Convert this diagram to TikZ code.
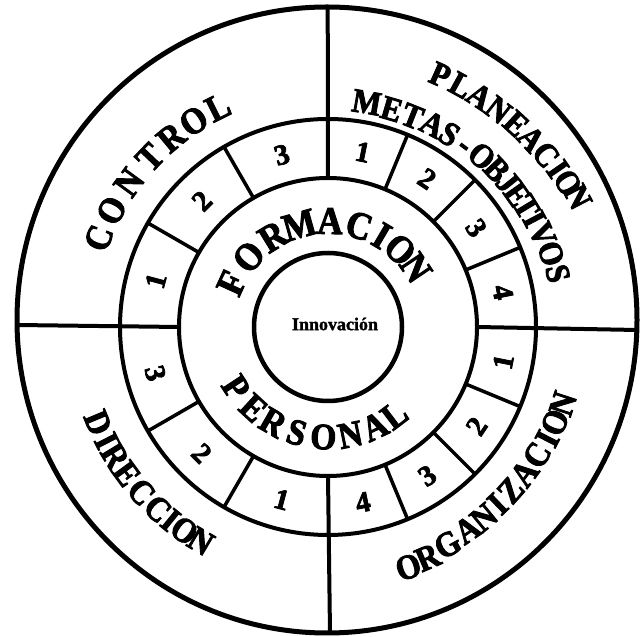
\documentclass[tikz,border=0pt]{standalone}
\usepackage{fontspec}
\setmainfont{Liberation Serif}
\newfontfamily\lettfont{Liberation Serif}[UprightFont={* Bold}, FakeStretch=0.9, FakeBold=2.5]
\newfontfamily\numfont{Liberation Serif}[UprightFont={* Bold}, FakeBold=2.5]
\newfontfamily\innofont{Liberation Serif}[UprightFont={* Bold}, FakeBold=1.5]
\usetikzlibrary{calc}
\tikzset{
  outerline/.style={line width=5pt},
  mainline/.style={line width=4pt},
  ringline/.style={line width=4pt},
  coreline/.style={line width=4.5pt},
  divline/.style={line width=3.5pt},
  ltr/.style={font=\lettfont\fontsize{#1}{#1}\selectfont, inner sep=0pt, text height={0.662*#1pt}, text depth=0pt},
  numl/.style={font=\numfont\fontsize{29}{29}\selectfont, inner sep=0pt, text height=19.5pt, text depth=0pt},
}
\newcommand{\toparc}[3]{\foreach \ch/\ang/\rad [count=\i] in {#3} {\node[#1, rotate=\ang-90] (#2\i) at ([shift={(\ang:\rad)}]C) {\ch};}}
\newcommand{\botarc}[3]{\foreach \ch/\ang/\rad [count=\i] in {#3} {\node[#1, rotate=\ang+90] (#2\i) at ([shift={(\ang:\rad)}]C) {\ch};}}
\begin{document}
\begin{tikzpicture}[x=1pt,y=1pt]
\fill[white] (0,0) rectangle (640,637);
\useasboundingbox (0,0) rectangle (640,637);
\coordinate (C) at (328,310);
\coordinate (OC) at (327,317);
% outer circle
\draw[outerline] (OC) ellipse[x radius=310, y radius=313];
% ring and core circles
\draw[ringline] (C) circle[radius=208];
\draw[ringline] (C) circle[radius=149];
\draw[coreline] (C) circle[radius=74];
% main cross lines
\coordinate (topO) at (327.7,630);
\coordinate (botO) at (330,4);
\coordinate (lefO) at (17,312);
\coordinate (rigO) at (637,307);
\coordinate (topR) at ([shift={(90:149)}]C);
\coordinate (botR) at ([shift={(270:149)}]C);
\coordinate (lefR) at ([shift={(180:149)}]C);
\coordinate (rigR) at ([shift={(0:149)}]C);
\draw[mainline] (topO) -- (topR);
\draw[mainline] (botO) -- (botR);
\draw[mainline] (lefO) -- (lefR);
\draw[mainline] (rigO) -- (rigR);
% ring dividers
\foreach \a in {120,150,210,240,67.5,45,22.5,-22.5,-45,-67.5}
  \draw[divline] ([shift={(\a:149)}]C) -- ([shift={(\a:208)}]C);
% numbers in the ring
\foreach \n/\a [count=\i] in {1/165,2/135,3/105,1/78.75,2/56.25,3/33.75,4/11.25}
  \node[numl, rotate=\a-90] (nt\i) at ([shift={(\a:178.5)}]C) {\n};
\foreach \n/\a [count=\i] in {1/-11.25,2/-33.75,3/-56.25,4/-78.75,3/195,2/225,1/255}
  \node[numl, rotate=\a+90] (nb\i) at ([shift={(\a:178.5)}]C) {\n};
% centre
\node[font=\innofont\fontsize{18}{18}\selectfont, inner sep=0pt] (inno) at (335,313) {Innovación};
% words
\toparc{ltr=39}{form}{F/155.5/106, O/138.5/106, R/121.4/106, M/105.7/106, A/88.9/106, C/72.9/106, I/59.5/106, O/47/106, N/34/106}
\botarc{ltr=37}{pers}{P/213.3/110, E/227.4/110, R/240.1/110, S/253.5/110, O/267.6/110, N/281.7/110, A/295.2/110, L/307.1/110}
\toparc{ltr=37}{ctrl}{C/158.8/246, O/151.7/246, N/144.0/246, T/136.4/246, R/129.6/246, O/123.1/246, L/116.6/246}
\toparc{ltr=34}{plan}{P/66.0/276, L/61.2/276, A/56.7/276, N/51.9/276, E/47.2/277, A/42.8/277, C/38.3/278, I/34.5/279, O/31.0/280, N/27.5/282}
\toparc{ltr=34}{meta}{M/80.2/228, E/73.7/227, T/68.2/227, A/62.7/228, S/57.8/228, -/53.0/229, O/48.0/230, B/43.0/231, J/38.9/231, E/35.0/231, T/31.2/232, I/27.6/233, V/23.4/234, O/18.2/235, S/13.1/236}
\botarc{ltr=35}{dire}{D/202.6/249, I/207.2/249, R/211.2/249, E/216.1/249, C/221.5/249, C/226.9/249, I/230.8/249, O/234.8/249, N/239.3/249}
\botarc{ltr=35}{orga}{O/288.5/253, R/293.4/251, G/298.8/248, A/304.5/246, N/309.3/246, I/313.8/245, Z/318.2/245, A/323.3/245, C/328.5/245, I/333/246, O/337.2/246, N/341.9/247}
\end{tikzpicture}
\end{document}
